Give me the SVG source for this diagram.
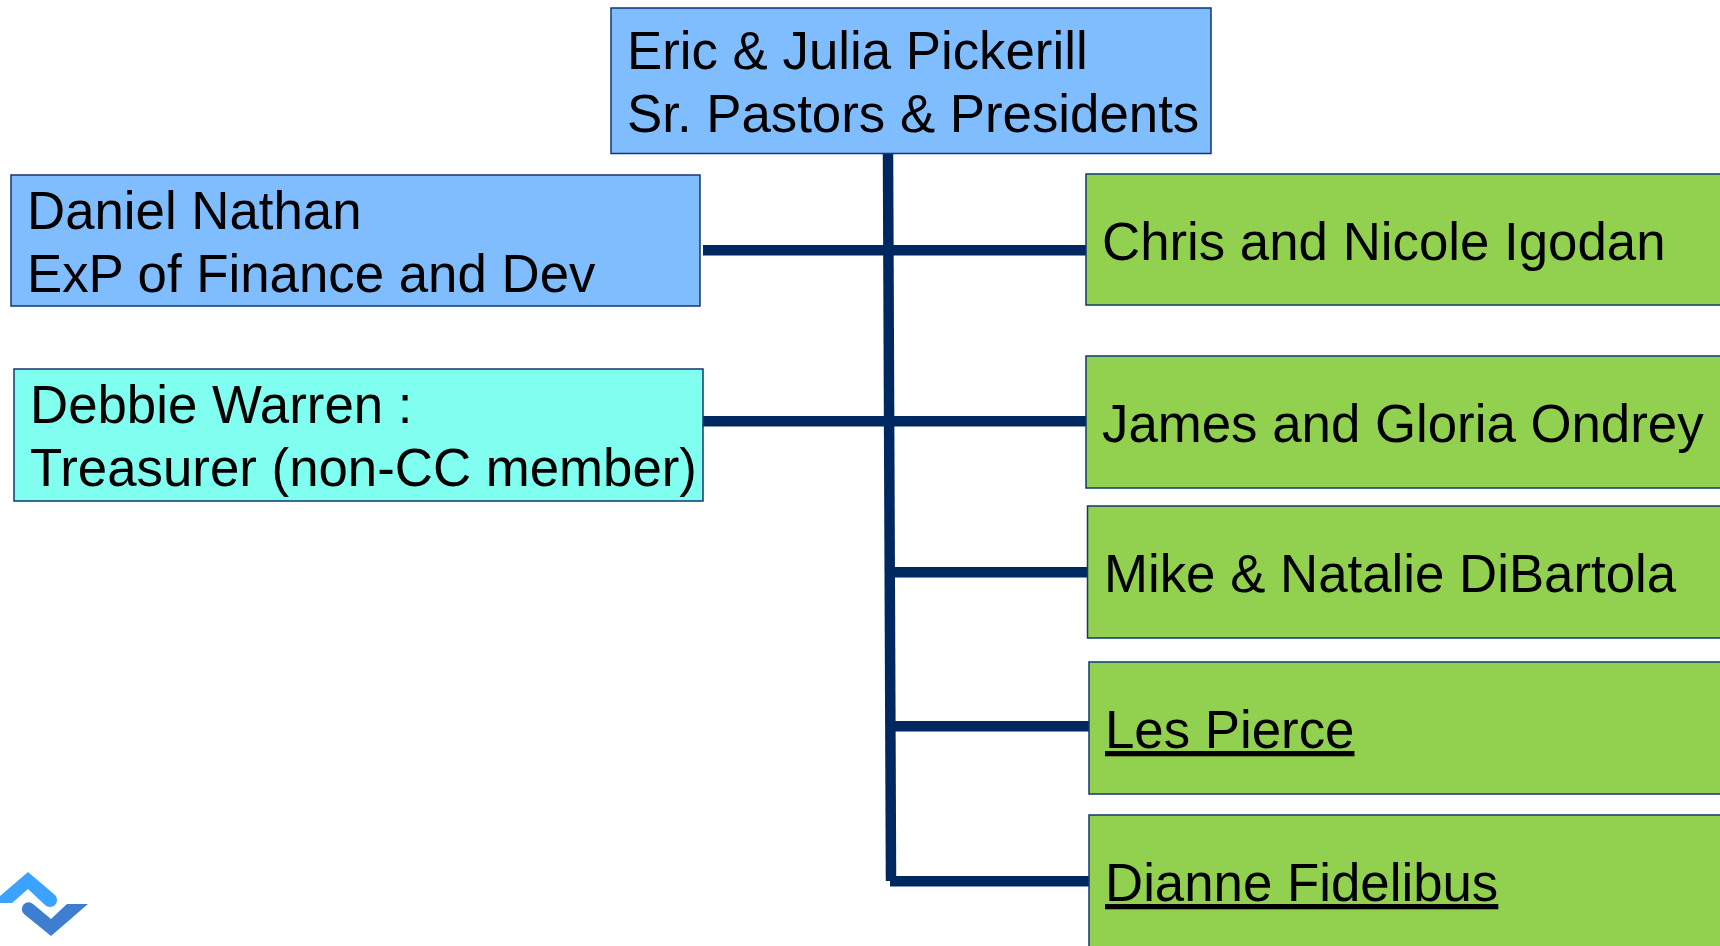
<svg xmlns="http://www.w3.org/2000/svg" width="1720" height="946" viewBox="0 0 1720 946">
<style>
.b{stroke:#123674;stroke-width:1.5}
.blue{fill:#80bdff}
.cyan{fill:#80fff0}
.green{fill:#92d050}
text{font-family:"Liberation Sans",Arial,sans-serif;font-size:52.8px;fill:#000}
.c{stroke:#002860;stroke-width:10.5;fill:none}
</style>
<rect width="1720" height="946" fill="#fff"/>
<g id="connectors">
<path class="c" d="M888 153L891 881"/>
<path class="c" d="M703 250.200H1086"/>
<path class="c" d="M703 421.200H1086"/>
<path class="c" d="M892 572.200H1087"/>
<path class="c" d="M892 726.300H1089"/>
<path class="c" d="M890 881.300H1089"/>
</g>
<g id="n1"><rect class="b blue" x="611" y="8" width="600" height="145.500"/><text x="627" y="69">Eric &amp; Julia Pickerill</text><text x="627" y="132">Sr. Pastors &amp; Presidents</text></g>
<g id="n2"><rect class="b blue" x="11" y="175" width="689" height="131"/><text x="27" y="229">Daniel Nathan</text><text x="27" y="292">ExP of Finance and Dev</text></g>
<g id="n3"><rect class="b cyan" x="14" y="369" width="689" height="132"/><text x="30" y="423">Debbie Warren :</text><text x="30" y="486">Treasurer (non-CC member)</text></g>
<g id="n4"><rect class="b green" x="1086" y="174" width="640" height="131"/><text x="1102" y="260">Chris and Nicole Igodan</text></g>
<g id="n5"><rect class="b green" x="1086" y="356" width="640" height="132"/><text x="1102" y="442">James and Gloria Ondrey</text></g>
<g id="n6"><rect class="b green" x="1087.500" y="506" width="640" height="132"/><text x="1104" y="592">Mike &amp; Natalie DiBartola</text></g>
<g id="n7"><rect class="b green" x="1089" y="662" width="640" height="132"/><text x="1105" y="748" text-decoration="underline">Les Pierce</text></g>
<g id="n8"><rect class="b green" x="1089" y="815" width="640" height="140"/><text x="1105" y="901" text-decoration="underline">Dianne Fidelibus</text></g>
<g id="logo">
<path fill="#3ba3ff" d="M0 903V896L28 872L55 895A7 7 0 0 1 45 905L28 889L12 903Z"/>
<path fill="#3d7ed0" d="M24 904A7 7 0 0 1 33 904L51 919L67 904H88L51 936L24 914A7 7 0 0 1 24 904Z"/>
</g>
</svg>
